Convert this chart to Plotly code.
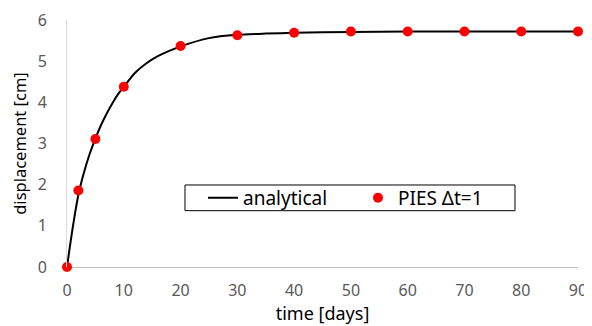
import plotly.graph_objects as go

# analytical solution
t_analytical = [0, 1, 2, 3, 4, 5, 6, 7, 8, 9, 10, 12, 14, 16, 18, 20, 25, 30, 35, 40, 50, 60, 70, 80, 90]
u_analytical = [0, 0.95, 1.75, 2.3, 2.75, 3.12, 3.45, 3.73, 3.98, 4.2, 4.38, 4.72, 4.95, 5.12, 5.25,
                5.36, 5.56, 5.64, 5.67, 5.69, 5.71, 5.72, 5.72, 5.72, 5.72]

# PIES results
t_pies = [0, 2, 5, 10, 20, 30, 40, 50, 60, 70, 80, 90]
u_pies = [0, 1.86, 3.11, 4.38, 5.37, 5.63, 5.69, 5.72, 5.72, 5.72, 5.72, 5.72]

x_ticks = [0, 10, 20, 30, 40, 50, 60, 70, 80, 90]
y_ticks = [0, 1, 2, 3, 4, 5, 6]

FONT = "Noto Sans"

fig = go.Figure()
fig.add_trace(go.Scatter(x=t_analytical, y=u_analytical, mode="lines", name="analytical",
                         line=dict(color="black", width=2, shape="spline", smoothing=0.6)))
fig.add_trace(go.Scatter(x=t_pies, y=u_pies, mode="markers", name="PIES Δt=1",
                         marker=dict(color="#ff0000", size=10), cliponaxis=False))

# legend frame
fig.add_shape(type="rect", xref="paper", yref="paper",
              x0=0.2309, x1=0.8767, y0=0.228, y1=0.332,
              line=dict(color="black", width=1), fillcolor="white", layer="below")

# page body has an 8px margin, so the figure is smaller and margins reduced accordingly
fig.update_layout(
    width=584, height=320,
    margin=dict(l=59, r=14, t=12, b=61),
    plot_bgcolor="white", paper_bgcolor="white",
    font=dict(family=FONT, size=16, color="#595959"),
    showlegend=True,
    legend=dict(orientation="h", x=136 / 511, y=0.28, xanchor="left", yanchor="middle",
                borderwidth=0, bgcolor="rgba(0,0,0,0)",
                font=dict(family=FONT, size=19, color="black"),
                entrywidth=110, itemwidth=30),
    xaxis=dict(range=[0, 90], tickvals=x_ticks, showgrid=False, zeroline=False,
               showline=False, ticks="", ticklen=0, ticklabelstandoff=12, automargin=False,
               ticklabeloverflow="allow",
               title=dict(text="time [days]", font=dict(family=FONT, size=18, color="black"), standoff=6)),
    yaxis=dict(range=[0, 6], tickvals=y_ticks, showgrid=False, zeroline=True,
               zerolinecolor="#bfbfbf", zerolinewidth=1, ticklabelstandoff=16, automargin=False,
               ticklabeloverflow="allow",
               showline=True, linecolor="#d9d9d9", linewidth=1, ticks="", ticklen=0,
               title=dict(text="displacement [cm]", font=dict(family=FONT, size=16.5, color="black"), standoff=8)),
)

fig.write_html("out.html")
